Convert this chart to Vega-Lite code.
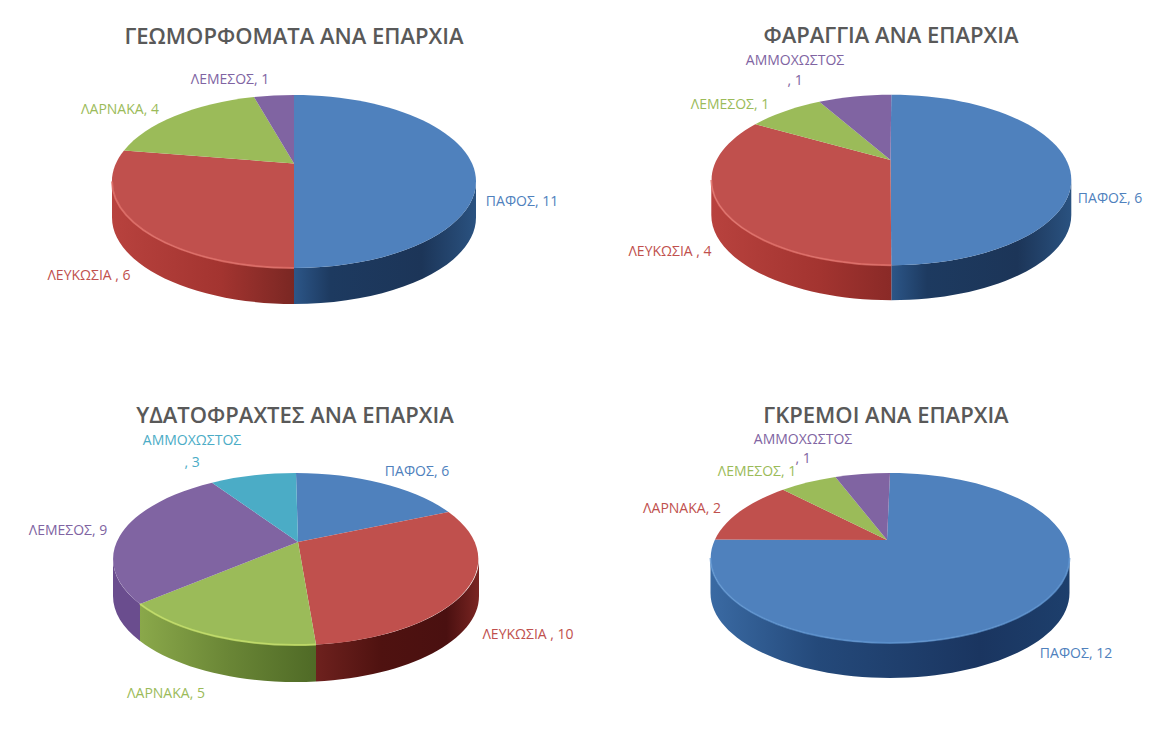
{"$schema":"https://vega.github.io/schema/vega-lite/v6.json","background":"white","padding":{"left":6,"top":8,"right":0,"bottom":0},"spacing":32,
"resolve":{"scale":{"color":"independent","shape":"independent"}},
"config":{"view":{"stroke":"#ececec","strokeWidth":1},"title":{"font":"Open Sans","fontSize":22,"fontWeight":600,"color":"#595959"},"text":{"font":"Open Sans","fontSize":14}},
"vconcat":[
{"resolve":{"scale":{"color":"independent","shape":"independent"}},"hconcat":[
{"width":576,"height":347,"title":{"text":"ΓΕΩΜΟΡΦΟΜΑΤΑ  ΑΝΑ ΕΠΑΡΧΙΑ","offset":-41,"anchor":"middle"},
"data":{"values":[{"category":"ΠΑΦΟΣ","value":11,"label":"ΠΑΦΟΣ, 11"},{"category":"ΛΕΥΚΩΣΙΑ","value":6,"label":"ΛΕΥΚΩΣΙΑ , 6"},{"category":"ΛΑΡΝΑΚΑ","value":4,"label":"ΛΑΡΝΑΚΑ, 4"},{"category":"ΛΕΜΕΣΟΣ","value":1,"label":"ΛΕΜΕΣΟΣ, 1"}]},
"layer":[
{"transform":[{"filter":"datum.category==='ΠΑΦΟΣ'"}],"mark":{"type":"point","filled":true,"opacity":1,"size":4,"shape":"M182 0A182 86.5 0 0 1 0 86.5L0 122.5A182 86.5 0 0 0 182 36Z","fill":{"gradient":"linear","x1":0,"y1":0,"x2":1,"y2":0,"stops":[{"offset":0,"color":"#2c5688"},{"offset":0.2,"color":"#1d3a60"},{"offset":0.7,"color":"#1c3558"},{"offset":1,"color":"#2a5280"}]}}},
{"transform":[{"filter":"datum.category==='ΛΕΥΚΩΣΙΑ'"}],"mark":{"type":"point","filled":true,"opacity":1,"size":4,"shape":"M0 86.5A182 86.5 0 0 1 -182 0L-182 36A182 86.5 0 0 0 0 122.5Z","fill":{"gradient":"linear","x1":0,"y1":0,"x2":1,"y2":0,"stops":[{"offset":0,"color":"#b8423e"},{"offset":0.6,"color":"#a33430"},{"offset":1,"color":"#7a2723"}]}}},
{"mark":{"type":"point","filled":true,"opacity":1,"size":4,"strokeWidth":0},"encoding":{
"color":{"field":"category","type":"nominal","legend":null,"scale":{"domain":["ΠΑΦΟΣ","ΛΕΥΚΩΣΙΑ","ΛΑΡΝΑΚΑ","ΛΕΜΕΣΟΣ"],"range":["#4f81bd","#c0504d","#9bbb59","#8064a2"]}},
"shape":{"field":"category","type":"nominal","legend":null,"scale":{"domain":["ΠΑΦΟΣ","ΛΕΥΚΩΣΙΑ","ΛΑΡΝΑΚΑ","ΛΕΜΕΣΟΣ"],"range":["M0 -18L0 -86.5A182 86.5 0 0 1 0 86.5Z","M0 -18L0 86.5A182 86.5 0 0 1 -170 -31Z","M0 -18L-170 -31A182 86.5 0 0 1 -40 -84.4Z","M0 -18L-40 -84.4A182 86.5 0 0 1 0 -86.5Z"]}}}},
{"transform":[{"filter":"datum.category==='ΛΕΥΚΩΣΙΑ'"}],"mark":{"type":"point","filled":false,"opacity":1,"size":4,"shape":"M0 86.5A182 86.5 0 0 1 -182 0","stroke":"#e0706a","strokeWidth":2,"strokeOpacity":0.8}},
{"transform":[{"filter":"datum.category==='ΠΑΦΟΣ'"}],"mark":{"type":"text","dx":228,"dy":20.5,"color":"#4f81bd"},"encoding":{"text":{"field":"label"}}},
{"transform":[{"filter":"datum.category==='ΛΕΥΚΩΣΙΑ'"}],"mark":{"type":"text","dx":-205,"dy":94.5,"color":"#c0504d"},"encoding":{"text":{"field":"label"}}},
{"transform":[{"filter":"datum.category==='ΛΑΡΝΑΚΑ'"}],"mark":{"type":"text","dx":-174,"dy":-71.5,"color":"#9bbb59"},"encoding":{"text":{"field":"label"}}},
{"transform":[{"filter":"datum.category==='ΛΕΜΕΣΟΣ'"}],"mark":{"type":"text","dx":-64,"dy":-101.5,"color":"#8064a2"},"encoding":{"text":{"field":"label"}}}
]},
{"width":561,"height":344,"title":{"text":"ΦΑΡΑΓΓΙΑ ΑΝΑ ΕΠΑΡΧΙΑ","offset":-40,"anchor":"middle","dx":3.5},
"data":{"values":[{"category":"ΠΑΦΟΣ","value":6,"label":"ΠΑΦΟΣ, 6"},{"category":"ΛΕΥΚΩΣΙΑ","value":4,"label":"ΛΕΥΚΩΣΙΑ , 4"},{"category":"ΛΕΜΕΣΟΣ","value":1,"label":"ΛΕΜΕΣΟΣ, 1"},{"category":"ΑΜΜΟΧΩΣΤΟΣ","value":1,"label":"ΑΜΜΟΧΩΣΤΟΣ\n, 1"}]},
"layer":[
{"transform":[{"filter":"datum.category==='ΠΑΦΟΣ'"}],"mark":{"type":"point","filled":true,"opacity":1,"size":4,"shape":"M183.8 0A180 85.3 0 0 1 3.8 85.3L3.8 120.3A180 85.3 0 0 0 183.8 35Z","fill":{"gradient":"linear","x1":0,"y1":0,"x2":1,"y2":0,"stops":[{"offset":0,"color":"#2c5688"},{"offset":0.2,"color":"#1d3a60"},{"offset":0.7,"color":"#1c3558"},{"offset":1,"color":"#2a5280"}]}}},
{"transform":[{"filter":"datum.category==='ΛΕΥΚΩΣΙΑ'"}],"mark":{"type":"point","filled":true,"opacity":1,"size":4,"shape":"M3.8 85.3A180 85.3 0 0 1 -176.2 0L-176.2 35A180 85.3 0 0 0 3.8 120.3Z","fill":{"gradient":"linear","x1":0,"y1":0,"x2":1,"y2":0,"stops":[{"offset":0,"color":"#b8423e"},{"offset":0.6,"color":"#a33430"},{"offset":1,"color":"#8a2a27"}]}}},
{"mark":{"type":"point","filled":true,"opacity":1,"size":4,"strokeWidth":0},"encoding":{
"color":{"field":"category","type":"nominal","legend":null,"scale":{"domain":["ΠΑΦΟΣ","ΛΕΥΚΩΣΙΑ","ΛΕΜΕΣΟΣ","ΑΜΜΟΧΩΣΤΟΣ"],"range":["#4f81bd","#c0504d","#9bbb59","#8064a2"]}},
"shape":{"field":"category","type":"nominal","legend":null,"scale":{"domain":["ΠΑΦΟΣ","ΛΕΥΚΩΣΙΑ","ΛΕΜΕΣΟΣ","ΑΜΜΟΧΩΣΤΟΣ"],"range":["M3 -20L3.8 -85.3A180 85.3 0 0 1 3.8 85.3Z","M3 -20L3.8 85.3A180 85.3 0 0 1 -132.2 -55.7Z","M3 -20L-132.2 -55.7A180 85.3 0 0 1 -68.2 -78.2Z","M3 -20L-68.2 -78.2A180 85.3 0 0 1 3.8 -85.3Z"]}}}},
{"transform":[{"filter":"datum.category==='ΛΕΥΚΩΣΙΑ'"}],"mark":{"type":"point","filled":false,"opacity":1,"size":4,"shape":"M3.8 85.3A180 85.3 0 0 1 -176.2 0","stroke":"#e0706a","strokeWidth":2,"strokeOpacity":0.8}},
{"transform":[{"filter":"datum.category==='ΠΑΦΟΣ'"}],"mark":{"type":"text","dx":222.5,"dy":19,"color":"#4f81bd"},"encoding":{"text":{"field":"label"}}},
{"transform":[{"filter":"datum.category==='ΛΕΥΚΩΣΙΑ'"}],"mark":{"type":"text","dx":-217.5,"dy":72,"color":"#c0504d"},"encoding":{"text":{"field":"label"}}},
{"transform":[{"filter":"datum.category==='ΛΕΜΕΣΟΣ'"}],"mark":{"type":"text","dx":-157.5,"dy":-75,"color":"#9bbb59"},"encoding":{"text":{"field":"label"}}},
{"transform":[{"filter":"datum.category==='ΑΜΜΟΧΩΣΤΟΣ'"}],"mark":{"type":"text","dx":-92.5,"dy":-119,"lineBreak":"\n","lineHeight":20,"color":"#8064a2"},"encoding":{"text":{"field":"label"}}}
]}
],"spacing":25},
{"resolve":{"scale":{"color":"independent","shape":"independent"}},"hconcat":[
{"width":578,"height":346,"title":{"text":"ΥΔΑΤΟΦΡΑΧΤΕΣ  ΑΝΑ ΕΠΑΡΧΙΑ","offset":-41,"anchor":"middle"},
"data":{"values":[{"category":"ΠΑΦΟΣ","value":6,"label":"ΠΑΦΟΣ, 6"},{"category":"ΛΕΥΚΩΣΙΑ","value":10,"label":"ΛΕΥΚΩΣΙΑ , 10"},{"category":"ΛΑΡΝΑΚΑ","value":5,"label":"ΛΑΡΝΑΚΑ, 5"},{"category":"ΛΕΜΕΣΟΣ","value":9,"label":"ΛΕΜΕΣΟΣ, 9"},{"category":"ΑΜΜΟΧΩΣΤΟΣ","value":3,"label":"ΑΜΜΟΧΩΣΤΟΣ\n, 3"}]},
"layer":[
{"transform":[{"filter":"datum.category==='ΛΕΥΚΩΣΙΑ'"}],"mark":{"type":"point","filled":true,"opacity":1,"size":4,"shape":"M184 -1A183 86 0 0 1 21 84.5L21 121.5A183 86 0 0 0 184 36Z","fill":{"gradient":"linear","x1":0,"y1":0,"x2":1,"y2":0,"stops":[{"offset":0,"color":"#6e211e"},{"offset":0.4,"color":"#4f1210"},{"offset":0.8,"color":"#4a1010"},{"offset":1,"color":"#7a2522"}]}}},
{"transform":[{"filter":"datum.category==='ΛΑΡΝΑΚΑ'"}],"mark":{"type":"point","filled":true,"opacity":1,"size":4,"shape":"M21 84.5A183 86 0 0 1 -155 44L-155 81A183 86 0 0 0 21 121.5Z","fill":{"gradient":"linear","x1":0,"y1":0,"x2":1,"y2":0,"stops":[{"offset":0,"color":"#8aa84a"},{"offset":0.5,"color":"#6a8636"},{"offset":1,"color":"#4f6a26"}]}}},
{"transform":[{"filter":"datum.category==='ΛΕΜΕΣΟΣ'"}],"mark":{"type":"point","filled":true,"opacity":1,"size":4,"shape":"M-155 44A183 86 0 0 1 -182 -1L-182 36A183 86 0 0 0 -155 81Z","fill":"#6a4d8e"}},
{"mark":{"type":"point","filled":true,"opacity":1,"size":4,"strokeWidth":0},"encoding":{
"color":{"field":"category","type":"nominal","legend":null,"scale":{"domain":["ΠΑΦΟΣ","ΛΕΥΚΩΣΙΑ","ΛΑΡΝΑΚΑ","ΛΕΜΕΣΟΣ","ΑΜΜΟΧΩΣΤΟΣ"],"range":["#4f81bd","#c0504d","#9bbb59","#8064a2","#4bacc6"]}},
"shape":{"field":"category","type":"nominal","legend":null,"scale":{"domain":["ΠΑΦΟΣ","ΛΕΥΚΩΣΙΑ","ΛΑΡΝΑΚΑ","ΛΕΜΕΣΟΣ","ΑΜΜΟΧΩΣΤΟΣ"],"range":["M3 -18L1 -87A183 86 0 0 1 153.5 -48Z","M3 -18L153.5 -48A183 86 0 0 1 21 84.5Z","M3 -18L21 84.5A183 86 0 0 1 -155 44Z","M3 -18L-155 44A183 86 0 0 1 -83 -77.3Z","M3 -18L-83 -77.3A183 86 0 0 1 1 -87Z"]}}}},
{"transform":[{"filter":"datum.category==='ΛΑΡΝΑΚΑ'"}],"mark":{"type":"point","filled":false,"opacity":1,"size":4,"shape":"M21 84.5A183 86 0 0 1 -155 44","stroke":"#c5e06a","strokeWidth":2,"strokeOpacity":0.8}},
{"transform":[{"filter":"datum.category==='ΠΑΦΟΣ'"}],"mark":{"type":"text","dx":122,"dy":-88,"color":"#4f81bd"},"encoding":{"text":{"field":"label"}}},
{"transform":[{"filter":"datum.category==='ΛΕΥΚΩΣΙΑ'"}],"mark":{"type":"text","dx":233,"dy":75,"color":"#c0504d"},"encoding":{"text":{"field":"label"}}},
{"transform":[{"filter":"datum.category==='ΛΑΡΝΑΚΑ'"}],"mark":{"type":"text","dx":-129,"dy":134,"color":"#9bbb59"},"encoding":{"text":{"field":"label"}}},
{"transform":[{"filter":"datum.category==='ΛΕΜΕΣΟΣ'"}],"mark":{"type":"text","dx":-227,"dy":-29,"color":"#8064a2"},"encoding":{"text":{"field":"label"}}},
{"transform":[{"filter":"datum.category==='ΑΜΜΟΧΩΣΤΟΣ'"}],"mark":{"type":"text","dx":-103,"dy":-119,"lineBreak":"\n","lineHeight":22,"color":"#4bacc6"},"encoding":{"text":{"field":"label"}}}
]},
{"width":561,"height":339,"title":{"text":"ΓΚΡΕΜΟΙ ΑΝΑ ΕΠΑΡΧΙΑ","offset":-41,"anchor":"middle","dx":-1.5},
"data":{"values":[{"category":"ΠΑΦΟΣ","value":12,"label":"ΠΑΦΟΣ, 12"},{"category":"ΛΑΡΝΑΚΑ","value":2,"label":"ΛΑΡΝΑΚΑ, 2"},{"category":"ΛΕΜΕΣΟΣ","value":1,"label":"ΛΕΜΕΣΟΣ, 1"},{"category":"ΑΜΜΟΧΩΣΤΟΣ","value":1,"label":"ΑΜΜΟΧΩΣΤΟΣ\n, 1"}]},
"layer":[
{"transform":[{"filter":"datum.category==='ΠΑΦΟΣ'"}],"mark":{"type":"point","filled":true,"opacity":1,"size":4,"shape":"M182 1.5A179.5 85 0 0 1 -177 1.5L-177 36.5A179.5 85 0 0 0 182 36.5Z","fill":{"gradient":"linear","x1":0,"y1":0,"x2":1,"y2":0,"stops":[{"offset":0,"color":"#3a6aa3"},{"offset":0.3,"color":"#24497a"},{"offset":0.75,"color":"#1a3560"},{"offset":1,"color":"#1d3f6c"}]}}},
{"mark":{"type":"point","filled":true,"opacity":1,"size":4,"strokeWidth":0},"encoding":{
"color":{"field":"category","type":"nominal","legend":null,"scale":{"domain":["ΠΑΦΟΣ","ΛΑΡΝΑΚΑ","ΛΕΜΕΣΟΣ","ΑΜΜΟΧΩΣΤΟΣ"],"range":["#4f81bd","#c0504d","#9bbb59","#8064a2"]}},
"shape":{"field":"category","type":"nominal","legend":null,"scale":{"domain":["ΠΑΦΟΣ","ΛΑΡΝΑΚΑ","ΛΕΜΕΣΟΣ","ΑΜΜΟΧΩΣΤΟΣ"],"range":["M-0.5 -16.5L2.5 -83.5A179.5 85 0 1 1 -172.5 -17Z","M-0.5 -16.5L-172.5 -17A179.5 85 0 0 1 -104.5 -66.8Z","M-0.5 -16.5L-104.5 -66.8A179.5 85 0 0 1 -52.1 -79.5Z","M-0.5 -16.5L-52.1 -79.5A179.5 85 0 0 1 2.5 -83.5Z"]}}}},
{"transform":[{"filter":"datum.category==='ΠΑΦΟΣ'"}],"mark":{"type":"point","filled":false,"opacity":1,"size":4,"shape":"M182 1.5A179.5 85 0 0 1 -177 1.5","stroke":"#5f95d2","strokeWidth":2,"strokeOpacity":0.7}},
{"transform":[{"filter":"datum.category==='ΠΑΦΟΣ'"}],"mark":{"type":"text","dx":188.5,"dy":97.5,"color":"#4f81bd"},"encoding":{"text":{"field":"label"}}},
{"transform":[{"filter":"datum.category==='ΛΑΡΝΑΚΑ'"}],"mark":{"type":"text","dx":-205.5,"dy":-47.5,"color":"#c0504d"},"encoding":{"text":{"field":"label"}}},
{"transform":[{"filter":"datum.category==='ΛΕΜΕΣΟΣ'"}],"mark":{"type":"text","dx":-130.5,"dy":-84.5,"color":"#9bbb59"},"encoding":{"text":{"field":"label"}}},
{"transform":[{"filter":"datum.category==='ΑΜΜΟΧΩΣΤΟΣ'"}],"mark":{"type":"text","dx":-84.5,"dy":-117,"lineBreak":"\n","lineHeight":19,"color":"#8064a2"},"encoding":{"text":{"field":"label"}}}
]}
],"spacing":23}
]}
